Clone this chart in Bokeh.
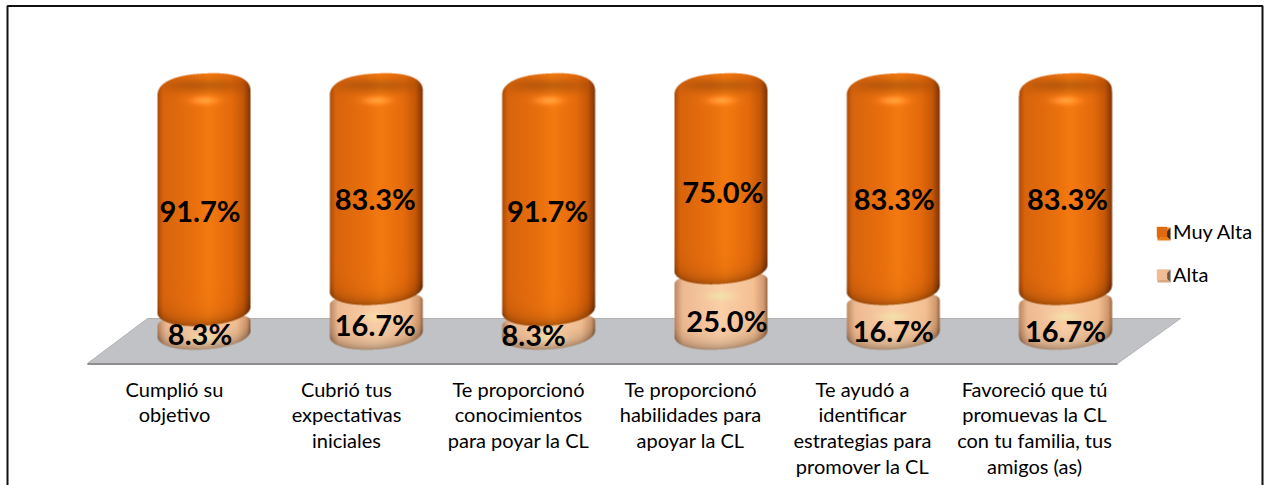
import numpy as np
from bokeh.core.properties import value
from bokeh.embed import file_html
from bokeh.models import ColumnDataSource, FixedTicker, Legend, LegendItem, LinearAxis, Range1d
from bokeh.plotting import figure
from bokeh.resources import INLINE

categories = [
    "Cumplió su\nobjetivo",
    "Cubrió tus\nexpectativas\niniciales",
    "Te proporcionó\nconocimientos\npara poyar la CL",
    "Te proporcionó\nhabilidades para\napoyar la CL",
    "Te ayudó a\nidentificar\nestrategias para\npromover la CL",
    "Favoreció que tú\npromuevas la CL\ncon tu familia, tus\namigos (as)",
]
muy_alta = [91.7, 83.3, 91.7, 75.0, 83.3, 83.3]
alta = [8.3, 16.7, 8.3, 25.0, 16.7, 16.7]
series_names = ["Muy Alta", "Alta"]

# page geometry (page pixels) used to define the scales
LEFT, TOP, W, H = 0, 0, 1265, 485
X0_PX, X_STEP = 203.5, 172.3
Y0_PX, Y_STEP = 346.0, 2.5
LABEL_X0, LABEL_STEP = 174.0, 172.0


def dx(px):
    return (px - X0_PX) / X_STEP


def dy(py):
    return (Y0_PX - py) / Y_STEP


x_range = Range1d(dx(LEFT), dx(LEFT + W))
y_range = Range1d(dy(TOP + H), dy(TOP))
p = figure(width=W, height=H, x_range=x_range, y_range=y_range, output_backend="svg",
           toolbar_location=None, min_border=0, outline_line_color=None,
           background_fill_color="white", border_fill_color="white")
p.xaxis.visible = False
p.yaxis.visible = False
p.xgrid.visible = False
p.ygrid.visible = False

# chart frame
p.line([dx(7), dx(7), dx(1262), dx(1262)], [dy(486), dy(5.5), dy(5.5), dy(486)],
       line_color="#111111", line_width=2)

# floor
p.patch([dx(87), dx(147), dx(1180), dx(1117)], [dy(363), dy(318), dy(318), dy(363)],
        fill_color="#c1c2c6", line_color="#b0b0b2", line_width=1)
p.line([dx(87), dx(1117)], [dy(363.5)] * 2, line_color="#8e8e8e", line_width=2)

xs = list(range(len(categories)))
src = ColumnDataSource(dict(x=xs, alta=alta, low=[1.0] * len(xs)))
r_alta = p.vbar(x="x", bottom="low", top="alta", width=0.2, source=src,
                fill_color="#f0bc94", line_color=None)
src2 = ColumnDataSource(dict(x=xs, bottom=[a + 1 for a in alta], top=[100.0] * len(xs)))
r_muy = p.vbar(x="x", bottom="bottom", top="top", width=0.2, source=src2,
               fill_color="#e06a0c", line_color=None)

ORANGE = [(-1.0, (170, 74, 8)), (-0.88, (216, 100, 12)), (-0.2, (234, 112, 14)),
          (0.1, (244, 122, 16)), (0.6, (228, 106, 12)), (0.84, (198, 88, 8)), (1.0, (128, 52, 6))]
PEACH = [(-1.0, (188, 136, 98)), (-0.82, (238, 186, 146)), (0.0, (252, 208, 168)),
         (0.7, (244, 192, 148)), (0.92, (210, 154, 110)), (1.0, (155, 104, 68))]


def band(t, stops):
    ts = [s[0] for s in stops]
    return np.stack([np.interp(t, ts, [s[1][c] for s in stops]) for c in range(3)], axis=-1)


def shaded(cx_px, y_top_back, y_bottom, shoulder, corner, stops, cap=False, hi_y=None, bot_dark=0.3):
    """RGBA raster for a rounded column, drawn between two value levels."""
    hw = 46.5
    SS = 3
    left = int(round(cx_px - 49))
    wpx = 98
    top = int(np.floor(y_top_back)) - 4
    hpx = int(np.ceil(y_bottom)) + 6 - top
    xg = left + (np.arange(wpx * SS) + 0.5) / SS
    yg = top + (np.arange(hpx * SS) + 0.5) / SS
    X, Y = np.meshgrid(xg, yg)
    t = (X - cx_px) / hw
    tc = np.clip(t, -1, 1)
    pw = 2.1
    tilt = 3.0 * tc
    edge_top = y_top_back + shoulder * (1 - (1 - np.abs(tc) ** 2.4) ** (1 / 2.4)) - tilt * 0.8
    edge_bot = y_bottom - corner * (1 - (1 - np.abs(tc) ** pw) ** (1 / pw)) - tilt
    inside = (np.abs(t) <= 1) & (Y >= edge_top) & (Y <= edge_bot)
    col = band(tc, stops)
    fac = np.ones_like(Y)
    d = edge_bot - Y
    fac *= 1 - bot_dark * np.exp(-np.clip(d, 0, None) / 7.0)
    add = np.zeros_like(Y)
    if cap:
        v = Y - y_top_back
        fac *= 1 - 0.20 * np.exp(-((v - 12) / 7.0) ** 2) * (1 - tc ** 2)
        add += 42 * np.exp(-((v - 27) / 4.0) ** 2) * np.exp(-(tc / 0.28) ** 2)
    rgb = col * fac[..., None] + add[..., None]
    if hi_y is not None:
        g = np.exp(-((Y - hi_y) / 4.0) ** 2) * np.exp(-(tc / 0.3) ** 2)
        rgb = rgb * (1 - g[..., None] * 0.6) + np.array([238, 236, 170]) * g[..., None] * 0.6
    rgba = np.zeros((hpx * SS, wpx * SS, 4))
    rgba[..., :3] = rgb
    rgba[..., 3] = inside * 255.0
    rgba = rgba.reshape(hpx, SS, wpx, SS, 4).mean(axis=(1, 3))
    img = np.clip(rgba, 0, 255).astype(np.uint8)
    packed = img[..., 0].astype(np.uint32) | (img[..., 1].astype(np.uint32) << 8) | \
        (img[..., 2].astype(np.uint32) << 16) | (img[..., 3].astype(np.uint32) << 24)
    return packed[::-1], left, top, wpx, hpx


def place(res):
    img, left, top, wpx, hpx = res
    p.image_rgba(image=[img], x=[dx(left)], y=[dy(top + hpx)],
                 dw=[wpx / X_STEP], dh=[hpx / Y_STEP])


for i, (a, m) in enumerate(zip(alta, muy_alta)):
    cx = X0_PX + X_STEP * i
    level = Y0_PX - a * Y_STEP
    place(shaded(cx, level - 12, Y0_PX + 3, 10, 16, PEACH, hi_y=level + 12, bot_dark=0.32))
    place(shaded(cx, Y0_PX - (a + m) * Y_STEP - 23, level, 20, 16, ORANGE, cap=True))

# percent labels
LABEL_FONT = value("Lato")
top_nudge_x = [-4, -1, -1, 2, 1, 2]
top_nudge_y = [-1, -2, -1, 1, -2, -2]
low_nudge_x = [-4, -1, -15, 6, 0, 0]
low_nudge_y = [-3, -1, -2, 5, 5, 5]
lab_x = xs + xs
lab_y = [a + m / 2 for a, m in zip(alta, muy_alta)] + [a / 2 for a in alta]
lab_t = [f"{v:.1f}%" for v in muy_alta] + [f"{v:.1f}%" for v in alta]
lab_src = ColumnDataSource(dict(x=lab_x, y=lab_y, t=lab_t,
                                ox=top_nudge_x + low_nudge_x, oy=top_nudge_y + low_nudge_y))
p.text(x="x", y="y", text="t", source=lab_src, x_offset="ox", y_offset="oy", text_align="center",
       text_baseline="middle", text_color="black", text_font=LABEL_FONT, text_font_style="bold",
       text_font_size=value("29px"))

# category labels (an axis shifted by the chart's perspective)
p.extra_x_ranges["labels"] = Range1d((LEFT - LABEL_X0) / LABEL_STEP, (LEFT + W - LABEL_X0) / LABEL_STEP)
axis = LinearAxis(x_range_name="labels", fixed_location=dy(366),
                  ticker=FixedTicker(ticks=xs),
                  major_label_overrides={i: c for i, c in enumerate(categories)},
                  axis_line_color=None, major_tick_line_color=None, minor_tick_line_color=None,
                  major_label_text_font="Lato", major_label_text_font_size="20px",
                  major_label_text_color="black", major_label_text_line_height=1.07,
                  major_label_standoff=4)
p.add_layout(axis, "below")

# legend
legend = Legend(items=[LegendItem(label=series_names[0], renderers=[r_muy]),
                       LegendItem(label=series_names[1], renderers=[r_alta])],
                location=(1155, 199), orientation="vertical", padding=0, margin=0,
                spacing=19, glyph_width=13, glyph_height=13, label_standoff=5, label_height=20,
                label_text_font="Lato", label_text_font_size="20px", label_text_color="black",
                background_fill_alpha=0, border_line_color=None)
p.add_layout(legend, "center")

# bevels on the legend keys
for top_px, shades in [(227, ("#f08a2a", "#c9600c", "#4a2a10", "#f07c14")),
                       (269, ("#e2b48e", "#c99a74", "#6d5a48", "#d8a67e"))]:
    l, r, t_, b = dx(1157), dx(1170), dy(top_px), dy(top_px + 13)
    mx, my = dx(1163.5), dy(top_px + 6.5)
    for pts, col in [(([l, r, mx], [t_, t_, my]), shades[0]), (([l, l, mx], [t_, b, my]), shades[1]),
                     (([r, r, mx], [t_, b, my]), shades[2]), (([l, r, mx], [b, b, my]), shades[3])]:
        p.patch(pts[0], pts[1], fill_color=col, line_color=None, level="overlay")

open("out.html", "w").write(file_html(p, INLINE))
